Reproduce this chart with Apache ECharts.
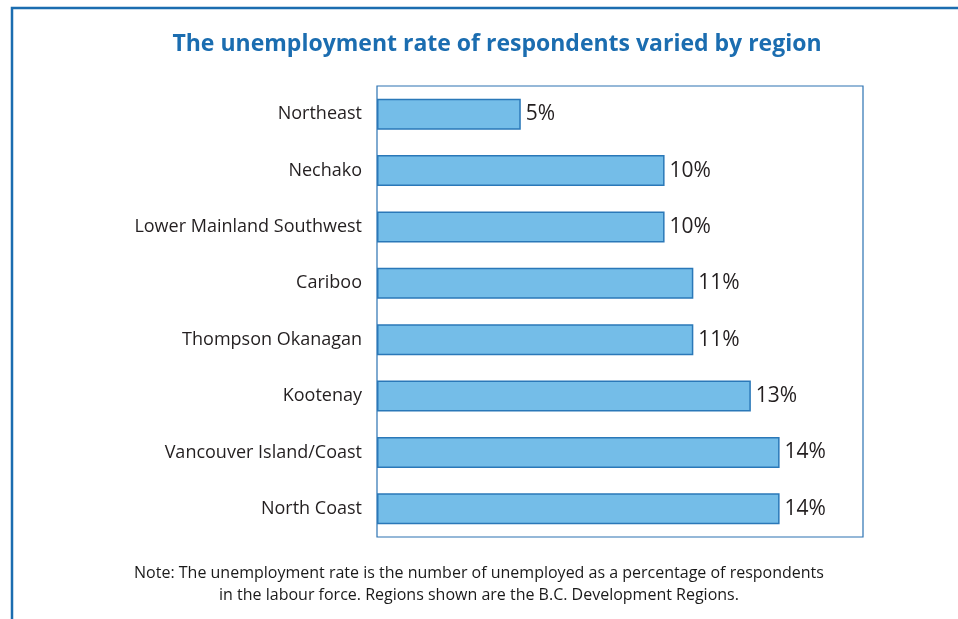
<!DOCTYPE html>
<html>
<head>
<meta charset="utf-8">
<script src="https://cdn.jsdelivr.net/npm/echarts@6/dist/echarts.min.js"></script>
<style>
  html, body { margin: 0; padding: 0; background: #fff; }
  #chart { width: 958px; height: 619px; }
</style>
</head>
<body>
<div id="chart"></div>
<script>
// regions, top to bottom
var regions = ['Northeast', 'Nechako', 'Lower Mainland Southwest', 'Cariboo',
  'Thompson Okanagan', 'Kootenay', 'Vancouver Island/Coast', 'North Coast'];
// unemployment rate (%)
var rates = [5, 10, 10, 11, 11, 13, 14, 14];

var titleText = 'The unemployment rate of respondents varied by region';
var noteText = 'Note: The unemployment rate is the number of unemployed as a percentage of respondents\n' +
  'in the labour force. Regions shown are the B.C. Development Regions.';

var blue = '#1b6db0';

var chart = echarts.init(document.getElementById('chart'));
var option = {
  backgroundColor: '#fff',
  title: {
    text: titleText,
    left: 492,
    top: 28,
    textAlign: 'center',
    textStyle: {
      color: blue,
      fontFamily: 'Open Sans',
      fontWeight: 'bold',
      fontSize: 23
    }
  },
  graphic: [
    // outer frame (left + top)
    {
      type: 'polyline',
      shape: { points: [[12, 619], [12, 8], [958, 8]] },
      style: { stroke: blue, lineWidth: 2.5, fill: null }
    },
    {
      type: 'text',
      left: 'center',
      top: 562,
      style: {
        text: noteText,
        textAlign: 'center',
        fill: '#1a1a1a',
        font: '16px "Open Sans"',
        lineHeight: 22
      }
    }
  ],
  grid: {
    left: 377,
    top: 86,
    width: 486,
    height: 451,
    show: true,
    borderColor: '#2c72b2',
    borderWidth: 1.2,
    containLabel: false
  },
  xAxis: {
    type: 'value',
    min: 0,
    max: 16.9,
    show: false
  },
  yAxis: {
    type: 'category',
    inverse: true,
    data: regions,
    axisLine: { show: false },
    axisTick: { show: false },
    axisLabel: {
      margin: 15,
      color: '#231f20',
      fontFamily: 'Open Sans',
      fontSize: 18
    }
  },
  series: [
    {
      name: 'Unemployment rate',
      type: 'bar',
      data: rates,
      barWidth: 31,
      itemStyle: {
        color: '#74bde8',
        borderColor: '#2a78b8',
        borderWidth: 1.5
      },
      label: {
        show: true,
        position: 'right',
        distance: 5,
        formatter: '{c}%',
        color: '#231f20',
        fontFamily: 'Open Sans',
        fontSize: 21
      },
      silent: true,
      animation: false
    }
  ]
};
chart.setOption(option);

window.addEventListener('resize', function () {
  chart.resize();
});
</script>
</body>
</html>
